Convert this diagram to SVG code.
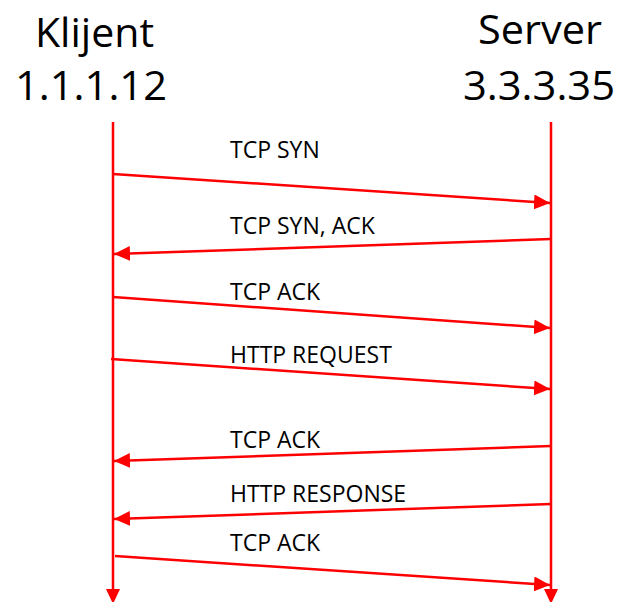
<svg xmlns="http://www.w3.org/2000/svg" width="620" height="602" viewBox="0 0 620 602">
<style>
.title{font-family:"Open Sans","Liberation Sans",sans-serif;font-size:41px;fill:#000}
.lbl{font-family:"Open Sans","Liberation Sans",sans-serif;font-size:23px;fill:#000}
.life{stroke:#ff0000;stroke-width:2.5;fill:none}
.msg{stroke:#ff0000;stroke-width:2.5;fill:none;marker-end:url(#ah)}
.head{fill:#ff0000}
</style>
<defs>
<marker id="ah" markerUnits="userSpaceOnUse" markerWidth="18" markerHeight="16" refX="16" refY="7.5" orient="auto">
<path d="M0,0 L16,7.5 L0,15 Z" fill="#ff0000"/>
</marker>
</defs>
<rect width="620" height="602" fill="#ffffff"/>
<g id="klijent">
<text class="title" x="35" y="47" textLength="119" lengthAdjust="spacingAndGlyphs">Klijent</text>
<text class="title" x="15" y="100" textLength="152" lengthAdjust="spacingAndGlyphs">1.1.1.12</text>
<line class="life" x1="113" y1="122" x2="113" y2="592"/>
<polygon class="head" points="106,589 120,589 113,604"/>
</g>
<g id="server">
<text class="title" x="478" y="44" textLength="124" lengthAdjust="spacingAndGlyphs">Server</text>
<text class="title" x="463" y="100" textLength="152" lengthAdjust="spacingAndGlyphs">3.3.3.35</text>
<line class="life" x1="551" y1="122" x2="551" y2="592"/>
<polygon class="head" points="544,589 558,589 551,604"/>
</g>
<g id="connectors">
<line class="msg" x1="113" y1="174" x2="550" y2="203"/>
<line class="msg" x1="551" y1="239" x2="114" y2="254"/>
<line class="msg" x1="113" y1="297" x2="550" y2="328"/>
<line class="msg" x1="111" y1="359" x2="550" y2="389"/>
<line class="msg" x1="551" y1="446" x2="114" y2="461"/>
<line class="msg" x1="551" y1="504" x2="114" y2="519"/>
<line class="msg" x1="115" y1="556" x2="550" y2="585"/>
</g>
<g id="labels">
<text class="lbl" x="230" y="158">TCP SYN</text>
<text class="lbl" x="230" y="234">TCP SYN, ACK</text>
<text class="lbl" x="230" y="300">TCP ACK</text>
<text class="lbl" x="230" y="363">HTTP REQUEST</text>
<text class="lbl" x="230" y="448">TCP ACK</text>
<text class="lbl" x="230" y="502">HTTP RESPONSE</text>
<text class="lbl" x="230" y="551">TCP ACK</text>
</g>
</svg>
